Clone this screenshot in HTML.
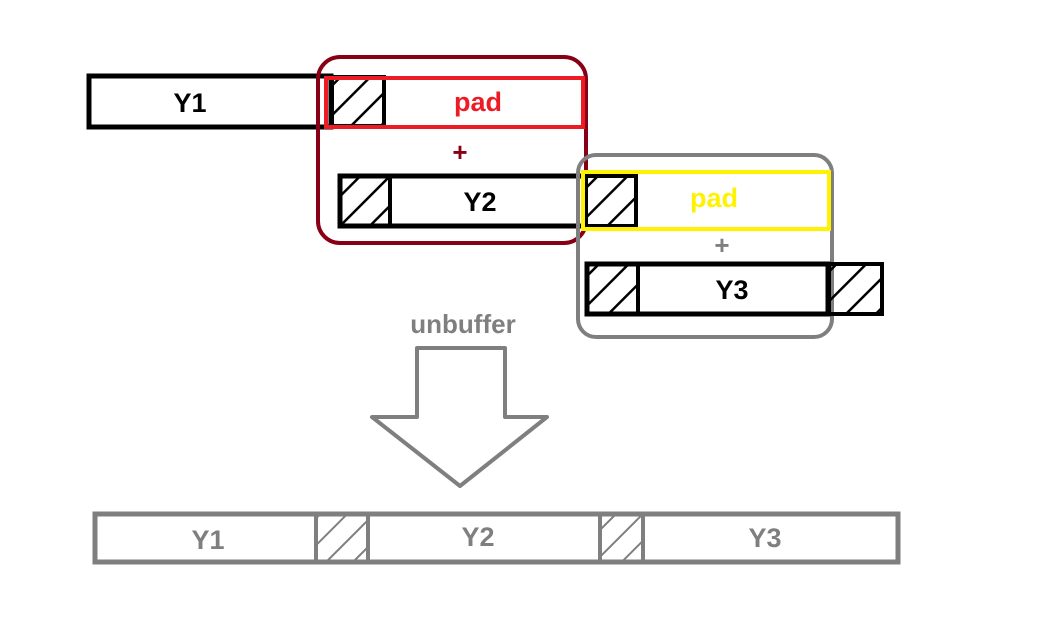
<!DOCTYPE html>
<html><head><meta charset="utf-8"><style>
html,body{margin:0;padding:0;background:#fff;}
svg{display:block;}
text{font-family:"Liberation Sans","DejaVu Sans",sans-serif;font-weight:bold;}
</style></head><body>
<svg width="1056" height="639" viewBox="0 0 1056 639">
<defs>
<pattern id="hb" patternUnits="userSpaceOnUse" width="21" height="21" patternTransform="rotate(45)">
<line x1="0" y1="0" x2="0" y2="21" stroke="#000" stroke-width="5"/>
</pattern>
<pattern id="hg" patternUnits="userSpaceOnUse" width="19" height="19" patternTransform="rotate(45)">
<line x1="0" y1="0" x2="0" y2="19" stroke="#7f7f7f" stroke-width="4"/>
</pattern>
</defs>

<g>
<rect x="89" y="76" width="242" height="51" fill="#fff" stroke="#000" stroke-width="5"/>
<text x="190" y="112" font-size="27" text-anchor="middle" fill="#000">Y1</text>
</g>
<rect x="332" y="77" width="52" height="49" fill="url(#hb)" stroke="#000" stroke-width="4"/>

<rect x="318" y="57" width="268" height="186" rx="22" fill="none" stroke="#880015" stroke-width="4"/>
<g>
<rect x="326" y="78" width="257" height="49" fill="none" stroke="#ed1c24" stroke-width="4"/>
<text x="478" y="111" font-size="27" text-anchor="middle" fill="#ed1c24">pad</text>
</g>
<text x="460" y="161" font-size="26" text-anchor="middle" fill="#880015">+</text>
<g>
<rect x="340" y="176" width="244" height="50" fill="#fff" stroke="#000" stroke-width="5"/>
<rect x="340" y="176" width="50" height="50" fill="url(#hb)" stroke="#000" stroke-width="4"/>
<text x="480" y="211" font-size="27" text-anchor="middle" fill="#000">Y2</text>
</g>

<rect x="578" y="155" width="254" height="182" rx="18" fill="none" stroke="#7f7f7f" stroke-width="4"/>
<g>
<rect x="586" y="176" width="50" height="50" fill="url(#hb)" stroke="#000" stroke-width="4"/>
<rect x="583" y="172" width="246" height="57" fill="none" stroke="#fff200" stroke-width="4"/>
<text x="714" y="207" font-size="27" text-anchor="middle" fill="#fff200">pad</text>
</g>
<text x="722" y="254" font-size="26" text-anchor="middle" fill="#7f7f7f">+</text>
<g>
<rect x="587" y="264" width="241" height="50" fill="#fff" stroke="#000" stroke-width="5"/>
<rect x="587" y="264" width="51" height="50" fill="url(#hb)" stroke="#000" stroke-width="4"/>
<rect x="829" y="264" width="53" height="50" fill="url(#hb)" stroke="#000" stroke-width="4"/>
<text x="732" y="299" font-size="27" text-anchor="middle" fill="#000">Y3</text>
</g>

<text x="463" y="333" font-size="26" text-anchor="middle" fill="#7f7f7f">unbuffer</text>
<polygon points="417,348 505,348 505,417 547,417 460,486 372,417 417,417" fill="#fff" stroke="#7f7f7f" stroke-width="4" stroke-linejoin="round"/>

<g>
<rect x="95" y="514" width="803" height="48" fill="#fff" stroke="#7f7f7f" stroke-width="5"/>
<rect x="316" y="514" width="52" height="48" fill="url(#hg)" stroke="#7f7f7f" stroke-width="4"/>
<rect x="600" y="514" width="43" height="48" fill="url(#hg)" stroke="#7f7f7f" stroke-width="4"/>
<text x="208" y="549" font-size="27" text-anchor="middle" fill="#7f7f7f">Y1</text>
<text x="478" y="546" font-size="27" text-anchor="middle" fill="#7f7f7f">Y2</text>
<text x="765" y="547" font-size="27" text-anchor="middle" fill="#7f7f7f">Y3</text>
</g>
</svg>
</body></html>
